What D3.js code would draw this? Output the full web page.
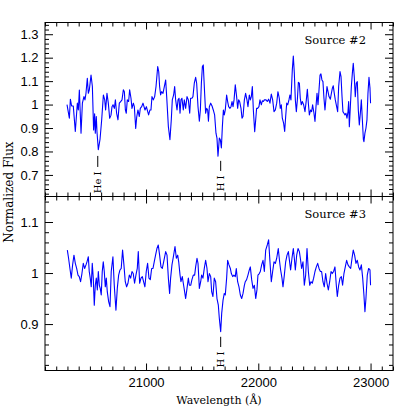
<!DOCTYPE html>
<html>
<head>
<meta charset="utf-8">
<script src="https://cdn.jsdelivr.net/npm/d3@7"></script>
<style>
  html, body { margin: 0; padding: 0; background: #fff; }
  svg { display: block; }
</style>
</head>
<body>
<svg id="chart" width="415" height="415"></svg>
<script>
// ---------------- DATA ----------------
// Source #2 spectrum: [wavelength (Å), normalized flux]
const source2Spectrum = [
[20296,1.000],[20317,0.942],[20326,1.023],[20337,0.994],[20352,0.994],[20370,0.885],[20388,1.006],[20397,0.977],[20406,1.062],[20421,0.878],
[20433,1.006],[20447,1.034],[20456,1.020],[20465,1.048],[20477,1.112],[20486,1.048],[20495,1.063],[20510,1.126],[20522,1.077],[20533,0.892],
[20542,0.961],[20548,0.878],[20557,0.949],[20563,0.884],[20575,0.808],[20590,0.851],[20605,0.935],[20620,1.041],[20632,1.020],[20640,0.977],
[20652,1.048],[20664,1.006],[20676,0.942],[20688,0.955],[20697,0.991],[20706,0.999],[20718,0.984],[20727,1.020],[20738,0.963],[20750,0.935],
[20762,1.006],[20774,1.013],[20786,1.020],[20798,1.063],[20807,1.055],[20816,0.977],[20824,0.963],[20833,1.020],[20845,1.013],[20854,1.063],
[20866,1.027],[20875,0.984],[20887,1.006],[20896,0.991],[20908,0.898],[20917,0.947],[20928,0.977],[20940,0.949],[20949,0.984],[20961,0.991],
[20973,1.006],[20982,0.991],[20991,0.977],[21003,0.991],[21015,0.970],[21023,0.956],[21035,0.977],[21044,0.977],[21053,1.034],[21065,1.020],
[21077,1.034],[21089,1.077],[21104,1.162],[21113,1.141],[21121,1.077],[21130,1.041],[21139,1.055],[21151,1.048],[21163,1.077],[21175,1.105],
[21184,1.034],[21199,0.906],[21213,0.850],[21225,0.935],[21234,1.020],[21246,1.041],[21255,1.077],[21264,1.020],[21276,0.977],[21285,1.020],
[21294,1.027],[21303,0.963],[21311,1.020],[21320,1.027],[21332,0.977],[21341,1.020],[21353,0.984],[21365,1.034],[21377,1.020],[21389,0.963],
[21397,1.027],[21409,1.027],[21418,1.034],[21430,1.091],[21442,1.116],[21451,1.091],[21463,0.991],[21475,0.929],[21484,0.977],[21493,1.091],
[21502,1.162],[21510,1.169],[21522,1.048],[21531,0.963],[21540,0.984],[21549,0.977],[21556,0.929],
[21564,0.991],[21576,1.006],[21588,0.994],[21599,0.977],[21611,0.956],[21623,0.878],[21632,0.857],[21641,0.780],[21653,0.857],[21662,0.850],
[21671,0.815],[21680,0.906],[21689,0.977],[21697,0.956],[21706,0.977],[21718,1.041],[21727,1.013],[21736,0.991],[21748,0.984],[21757,0.991],
[21766,1.013],[21775,0.991],[21784,1.020],[21795,1.084],[21807,1.034],[21816,0.984],[21825,1.020],[21834,1.013],[21846,0.984],[21855,0.942],
[21864,0.949],[21876,1.020],[21887,1.048],[21899,1.020],[21908,0.991],[21920,1.041],[21929,1.020],[21938,1.034],[21947,1.077],[21956,0.977],
[21968,0.884],[21977,0.935],[21985,0.984],[21994,0.984],[22006,0.991],[22015,1.020],[22027,0.999],[22036,1.016],[22045,1.013],[22054,1.020],
[22069,1.020],[22080,1.013],[22092,1.023],[22104,1.006],[22116,1.045],[22128,1.020],[22140,0.970],[22152,0.977],[22164,1.006],[22175,1.055],
[22187,1.027],[22196,0.984],[22205,0.999],[22214,0.942],[22226,0.920],[22235,0.885],[22244,0.949],[22253,1.006],[22262,0.999],[22273,1.020],
[22282,1.041],[22291,1.020],[22303,1.148],[22312,1.207],[22321,1.134],[22330,1.020],[22339,0.970],[22348,1.020],[22357,1.095],[22366,1.091],
[22374,1.027],[22383,0.999],[22392,1.013],[22404,0.999],[22416,0.970],[22428,1.020],[22437,1.065],[22446,1.006],[22455,0.956],[22466,0.977],
[22475,0.970],[22484,0.999],[22496,0.963],[22505,0.928],[22514,0.991],[22523,1.048],[22532,0.999],[22541,1.063],[22550,1.126],[22558,1.131],
[22567,1.105],[22576,1.098],[22585,1.027],[22594,0.977],[22603,1.027],[22612,1.077],[22621,1.055],[22630,1.034],[22642,1.023],[22651,1.048],
[22660,1.070],[22668,1.080],[22677,1.048],[22686,1.020],[22698,0.991],[22707,0.970],[22716,1.077],[22728,1.141],[22737,1.119],[22746,1.034],
[22754,0.970],[22763,0.963],[22772,0.956],[22781,0.963],[22790,0.942],[22799,0.970],[22805,1.013],[22811,0.906],[22820,0.991],[22829,1.077],
[22838,1.134],[22846,1.176],[22855,1.119],[22864,1.034],[22873,1.091],[22882,1.098],[22891,0.977],[22900,0.913],[22909,0.963],[22918,1.020],
[22927,0.935],[22936,0.852],[22941,0.842],[22950,0.878],[22959,0.899],[22968,0.935],[22977,1.048],[22986,1.116],[22995,1.070],[23000,1.006]
];

// Source #3 spectrum: [wavelength (Å), normalized flux]
const source3Spectrum = [
[20299,1.045],[20310,1.029],[20322,1.009],[20334,0.990],[20346,1.016],[20358,1.035],[20370,1.019],[20382,1.009],[20394,0.996],[20405,0.993],
[20417,0.983],[20429,0.999],[20441,1.019],[20453,1.009],[20465,1.016],[20474,1.022],[20486,1.032],[20494,1.003],[20503,0.990],[20512,0.973],
[20521,1.019],[20530,0.990],[20539,0.937],[20548,0.976],[20557,0.990],[20566,0.967],[20575,1.003],[20584,0.976],[20592,0.970],[20601,0.957],
[20610,1.003],[20619,1.022],[20628,1.003],[20637,0.973],[20646,0.990],[20655,0.963],[20667,0.944],[20679,0.934],[20690,1.003],[20705,1.032],
[20717,0.976],[20732,0.927],[20744,0.970],[20756,0.996],[20768,1.006],[20779,1.009],[20791,1.045],[20803,1.016],[20815,0.983],[20827,0.973],
[20839,0.980],[20851,0.996],[20863,0.990],[20875,1.003],[20886,0.999],[20898,0.980],[20910,0.996],[20922,1.009],[20931,1.042],[20943,0.980],
[20955,0.990],[20967,0.993],[20978,0.983],[20990,0.973],[21002,1.003],[21014,1.019],[21026,0.990],[21038,0.987],[21050,1.009],[21062,1.009],
[21073,1.022],[21085,1.035],[21097,1.048],[21109,1.055],[21121,1.035],[21133,1.012],[21145,1.009],[21157,1.022],
[21175,1.042],[21187,1.035],[21199,0.990],[21210,0.960],[21219,0.990],[21231,1.016],[21246,1.035],[21258,1.052],[21270,1.029],[21282,1.035],
[21291,1.022],[21303,0.996],[21311,0.983],[21323,0.993],[21332,0.980],[21344,0.963],[21353,0.950],[21365,0.970],[21377,0.990],[21386,0.976],
[21398,0.976],[21409,0.987],[21421,0.996],[21433,0.996],[21442,1.012],[21454,1.029],[21463,1.019],[21475,0.970],[21487,0.983],[21495,0.996],
[21507,0.990],[21519,1.009],[21531,1.025],[21543,1.009],[21552,0.983],[21564,0.999],[21576,0.993],[21585,0.963],[21596,0.954],[21608,0.990],
[21620,0.983],[21632,0.950],[21644,0.937],[21653,0.911],[21665,0.885],[21674,0.921],[21686,0.947],[21697,0.960],[21706,0.957],[21718,0.990],
[21727,1.025],[21739,1.016],[21751,1.009],[21760,0.999],[21772,0.993],[21783,0.996],[21795,0.993],[21804,1.009],[21816,0.983],[21828,0.973],
[21840,0.957],[21852,0.950],[21864,0.960],[21876,0.976],[21884,0.983],[21896,0.987],[21908,0.996],[21920,1.006],[21929,1.012],[21941,0.987],
[21953,0.970],[21965,0.976],[21977,0.950],[21988,0.967],[21997,0.996],[22009,0.999],[22018,1.003],[22030,1.016],[22042,1.025],[22054,1.003],
[22066,1.045],
[22080,1.055],[22092,1.065],[22104,1.022],[22116,0.983],[22128,1.003],[22140,1.022],[22152,1.019],[22164,1.029],[22178,1.048],[22190,1.022],
[22199,1.006],[22211,0.990],[22220,0.973],[22232,0.996],[22244,1.022],[22256,1.035],[22268,1.042],[22279,1.022],[22288,1.006],[22300,1.029],
[22312,1.048],[22321,1.029],[22330,1.006],[22342,1.035],[22354,1.048],[22366,1.042],[22377,1.025],[22386,1.009],[22398,1.022],[22410,0.976],
[22422,0.996],[22434,1.048],[22446,1.003],[22458,0.976],[22469,0.983],[22481,0.980],[22493,0.990],[22505,1.003],[22517,1.012],[22529,1.019],
[22541,1.009],[22553,1.003],[22564,1.003],[22576,0.983],[22588,0.973],[22600,0.999],[22612,0.980],[22624,0.967],[22636,0.983],[22648,1.003],
[22659,0.999],[22671,1.003],[22683,1.012],[22695,0.976],[22704,0.954],[22716,0.976],[22728,0.990],[22740,0.993],[22751,0.976],[22763,0.999],
[22775,1.012],[22787,1.025],[22799,1.016],[22811,1.012],[22823,1.009],[22835,1.029],[22846,1.045],[22858,1.035],[22870,1.019],[22882,1.025],
[22894,1.012],[22906,1.006],[22918,1.016],[22930,0.990],[22941,0.957],[22950,0.924],[22959,0.950],[22971,0.996],[22983,1.009],[22995,1.006],[23000,0.976]
];

const panelNames = ["Source #2", "Source #3"];
const panelDomains = [[0.608, 1.350], [0.809, 1.150]];
const panelMajorTicks = [[0.7, 0.8, 0.9, 1, 1.1, 1.2, 1.3], [0.9, 1, 1.1]];
const panelMinorStep = 0.02;
const xDomain = [20100, 23200];
const xMajorTicks = [21000, 22000, 23000];
const xMinorStep = 100;

// line identifications
const lineLabels = ["He I", "H I", "H I"];
const linePanel  = [0, 0, 1];
const lineWave   = [20570, 21665, 21665];
const lineMarkTop = [0.781, 0.760, 0.875];
const lineMarkBot = [0.734, 0.717, 0.855];

const xTitle = "Wavelength (Å)";
const yTitle = "Normalized Flux";

// ---------------- LAYOUT ----------------
const L = 45, R = 393;
const panelTops = [22.5, 196.5];
const panelBots = [196.5, 370.5];
const svg = d3.select("#chart");
const serif = "'DejaVu Serif', serif";
const sans = "'Liberation Sans', Arial, sans-serif";

const x = d3.scaleLinear().domain(xDomain).range([L, R]);
const xMinor = d3.range(Math.ceil(xDomain[0] / xMinorStep) * xMinorStep, xDomain[1] + 1, xMinorStep)
  .filter(v => !xMajorTicks.includes(v));

const spectra = [source2Spectrum, source3Spectrum];

function styleAxis(g) {
  g.select(".domain").remove();
  g.selectAll(".tick line").attr("stroke", "#000").attr("stroke-width", 1);
  g.selectAll(".tick text").attr("fill", "#000").style("font-family", sans).style("font-size", "13px");
}

panelNames.forEach((name, p) => {
  const y = d3.scaleLinear().domain(panelDomains[p]).range([panelBots[p], panelTops[p]]);
  const dom = panelDomains[p];
  const yMinor = d3.range(Math.ceil(dom[0] / panelMinorStep - 1e-6), Math.floor(dom[1] / panelMinorStep + 1e-6) + 1)
    .map(i => +(i * panelMinorStep).toFixed(2))
    .filter(v => !panelMajorTicks[p].some(m => Math.abs(m - v) < 1e-6));
  const g = svg.append("g");

  // y axes left (labels) and right
  g.append("g").attr("transform", `translate(${L},0)`)
    .call(d3.axisLeft(y).tickValues(panelMajorTicks[p]).tickSize(-8).tickPadding(6.5)
      .tickFormat(d => d === 1 ? "1" : d3.format(".1f")(d)))
    .call(styleAxis);
  g.append("g").attr("transform", `translate(${L},0)`)
    .call(d3.axisLeft(y).tickValues(yMinor).tickSize(-4).tickFormat(""))
    .call(styleAxis);
  g.append("g").attr("transform", `translate(${R},0)`)
    .call(d3.axisRight(y).tickValues(panelMajorTicks[p]).tickSize(-8).tickFormat(""))
    .call(styleAxis);
  g.append("g").attr("transform", `translate(${R},0)`)
    .call(d3.axisRight(y).tickValues(yMinor).tickSize(-4).tickFormat(""))
    .call(styleAxis);

  // x axes top and bottom (inward ticks)
  g.append("g").attr("transform", `translate(0,${panelTops[p]})`)
    .call(d3.axisTop(x).tickValues(xMajorTicks).tickSize(-7).tickFormat(""))
    .call(styleAxis);
  g.append("g").attr("transform", `translate(0,${panelTops[p]})`)
    .call(d3.axisTop(x).tickValues(xMinor).tickSize(-4).tickFormat(""))
    .call(styleAxis);
  const isLast = p === panelNames.length - 1;
  g.append("g").attr("transform", `translate(0,${panelBots[p]})`)
    .call(d3.axisBottom(x).tickValues(xMajorTicks).tickSize(-7).tickPadding(7)
      .tickFormat(isLast ? d3.format("d") : ""))
    .call(styleAxis);
  g.append("g").attr("transform", `translate(0,${panelBots[p]})`)
    .call(d3.axisBottom(x).tickValues(xMinor).tickSize(-4).tickFormat(""))
    .call(styleAxis);

  // frame
  g.append("rect").attr("x", L).attr("y", panelTops[p])
    .attr("width", R - L).attr("height", panelBots[p] - panelTops[p])
    .attr("fill", "none").attr("stroke", "#000").attr("stroke-width", 1);

  // spectrum
  const line = d3.line().x(d => x(d[0])).y(d => y(d[1])).curve(d3.curveLinear);
  g.append("path").datum(spectra[p]).attr("d", line)
    .attr("fill", "none").attr("stroke", "#0000ff").attr("stroke-width", 1.1)
    .attr("stroke-linejoin", "round");

  // source label
  g.append("text").attr("x", 366).attr("y", panelTops[p] + 21.8)
    .attr("text-anchor", "end").style("font-family", serif).style("font-size", "11.5px")
    .text(name);

  // line identifications
  lineLabels.forEach((lab, i) => {
    if (linePanel[i] !== p) return;
    const lx = x(lineWave[i]);
    const yTop = y(lineMarkTop[i]), yBot = y(lineMarkBot[i]);
    g.append("line").attr("x1", lx).attr("x2", lx).attr("y1", yTop).attr("y2", yBot)
      .attr("stroke", "#000").attr("stroke-width", 1);
    g.append("text")
      .attr("transform", `translate(${lx + 3.4},${yBot + 4.5}) rotate(-90)`)
      .attr("text-anchor", "end")
      .style("font-family", serif).style("font-size", "10px")
      .text(lab);
  });
});

// axis titles
svg.append("text").attr("x", (L + R) / 2).attr("y", 403.5)
  .attr("text-anchor", "middle").style("font-family", serif).style("font-size", "11px")
  .text(xTitle);
svg.append("text").attr("transform", `translate(12.5,192) rotate(-90)`)
  .attr("text-anchor", "middle").style("font-family", serif).style("font-size", "12px")
  .text(yTitle);
</script>
</body>
</html>
